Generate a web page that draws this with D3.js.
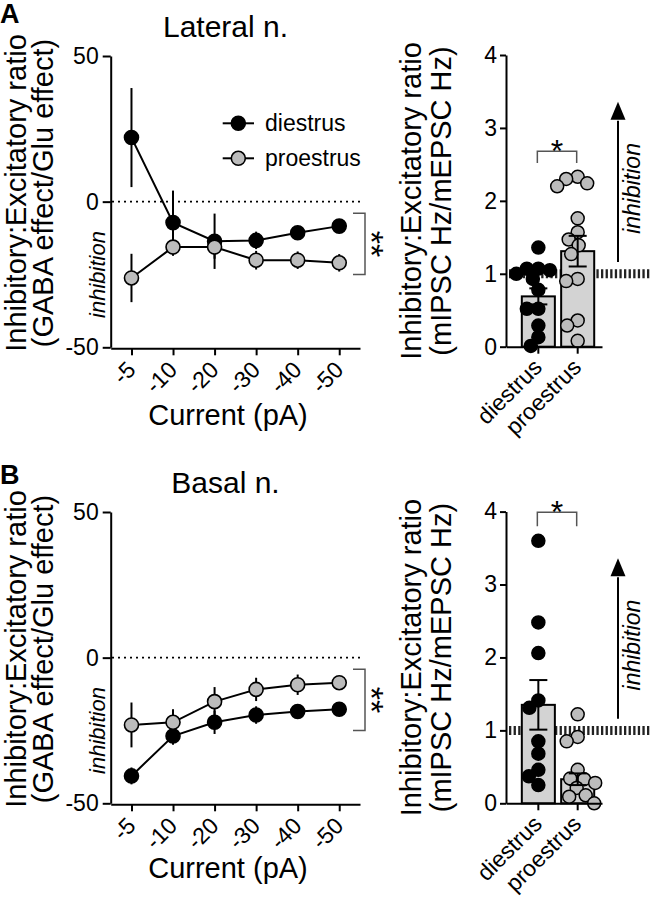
<!DOCTYPE html>
<html><head><meta charset="utf-8">
<script src="https://cdn.jsdelivr.net/npm/d3@7"></script>
<style>
body{margin:0;background:#fff}
text{font-family:"Liberation Sans",Arial,Helvetica,sans-serif;fill:#000}
</style>
</head><body>
<svg id="chart" width="651" height="899"></svg>
<script>
// ---------- data ----------
const currents = ["-5","-10","-20","-30","-40","-50"];
const lineTickValues = [50, 0, -50];
const lineTickLabels = ["50", "0", "-50"];
const barTickValues = [0, 1, 2, 3, 4];
const barTickLabels = ["0", "1", "2", "3", "4"];
const groups = ["diestrus", "proestrus"];

// Lateral n. (panel A, left)
const latDiestrusMean = [22, -7.2, -13.6, -13.3, -10.7, -8.4];
const latDiestrusSem  = [17, 11, 9.5, 3, 2, 1.5];
const latProestrusMean = [-26.2, -15.6, -15.6, -20.1, -20.1, -21];
const latProestrusSem  = [8.3, 3, 4, 3.2, 3, 3];

// Basal n. (panel B, left)
const basDiestrusMean = [-40.6, -26.9, -22.2, -19.7, -18.5, -17.7];
const basDiestrusSem  = [2.9, 3, 4, 3, 2, 1.5];
const basProestrusMean = [-23.1, -22.2, -15.1, -10.9, -9.3, -8.6];
const basProestrusSem  = [7.7, 4.5, 5, 4, 3.5, 1.5];

// Lateral n. (panel A, right) mIPSC/mEPSC ratio
const latBarMean = [0.69, 1.31];
const latBarSem  = [0.11, 0.21];
const latDiestrusPts  = [1.36, 1.07, 1.07, 1.05, 1.0, 0.93, 0.78, 0.52, 0.52, 0.29, 0.13, 0.01];
const latProestrusPts = [2.33, 2.30, 2.24, 2.20, 1.76, 1.57, 1.47, 1.39, 1.27, 0.93, 0.90, 0.36, 0.29, 0.08];

// Basal n. (panel B, right)
const basBarMean = [1.35, 0.33];
const basBarSem  = [0.34, 0.08];
const basDiestrusPts  = [3.60, 2.48, 2.06, 1.41, 1.31, 0.85, 0.68, 0.46, 0.37, 0.25];
const basProestrusPts = [1.22, 0.91, 0.85, 0.46, 0.34, 0.33, 0.28, 0.21, 0.11, 0.09, 0.0];

// ---------- style ----------
const GRAY = "#bcbcbc";
const BARFILL = "#d3d3d3";
const svg = d3.select("#chart");
svg.append("rect").attr("width", 651).attr("height", 899).attr("fill", "#fff");

function styleAxis(g) {
  g.selectAll(".domain").attr("stroke", "#000").attr("stroke-width", 2);
  g.selectAll(".tick line").attr("stroke", "#000").attr("stroke-width", 2);
  g.selectAll(".tick text").attr("font-size", 23).attr("fill", "#000")
    .style("font-family", '"Liberation Sans",Arial,sans-serif');
}

function yLabel(x1, x2, cy, l1, l2) {
  const t = svg.append("g").attr("font-size", 29);
  t.append("text").attr("transform", `translate(${x1},${cy}) rotate(-90)`)
    .attr("text-anchor", "middle").text(l1);
  t.append("text").attr("transform", `translate(${x2},${cy}) rotate(-90)`)
    .attr("text-anchor", "middle").text(l2);
}

// ---------- line chart ----------
function lineChart(off, title, dMean, dSem, pMean, pSem, legend) {
  const y = d3.scaleLinear().domain([-50, 50]).range([347.3 + off, 56 + off]);
  const x = d3.scalePoint().domain(currents).range([110.7, 360]).padding(0.5);

  svg.append("line").attr("x1", 112).attr("x2", 360)
    .attr("y1", y(0)).attr("y2", y(0))
    .attr("stroke", "#000").attr("stroke-width", 1.6).attr("stroke-dasharray", "2,4");

  const ya = svg.append("g").attr("transform", `translate(110.7,0)`)
    .call(d3.axisLeft(y).tickValues(lineTickValues)
      .tickFormat((d, i) => lineTickLabels[i]).tickSize(8).tickPadding(4).tickSizeOuter(0));
  styleAxis(ya);

  const xa = svg.append("g").attr("transform", `translate(0,${y(-50) + 1})`)
    .call(d3.axisBottom(x).tickSize(7).tickSizeOuter(0));
  styleAxis(xa);
  xa.selectAll(".tick text").attr("y", 0).attr("dy", 0)
    .attr("text-anchor", "end")
    .attr("transform", "translate(5,23) rotate(-45)");

  const series = [
    {mean: dMean, sem: dSem, fill: "#000"},
    {mean: pMean, sem: pSem, fill: GRAY}
  ];
  const line = d3.line().x((d, i) => x(currents[i])).y(d => y(d));
  series.forEach(s => {
    svg.append("path").datum(s.mean).attr("d", line)
      .attr("fill", "none").attr("stroke", "#000").attr("stroke-width", 2);
  });
  series.forEach(s => {
    svg.append("g").selectAll("line").data(s.mean).join("line")
      .attr("x1", (d, i) => x(currents[i])).attr("x2", (d, i) => x(currents[i]))
      .attr("y1", (d, i) => y(d - s.sem[i])).attr("y2", (d, i) => y(d + s.sem[i]))
      .attr("stroke", "#000").attr("stroke-width", 2);
  });
  series.forEach(s => {
    svg.append("g").selectAll("circle").data(s.mean).join("circle")
      .attr("cx", (d, i) => x(currents[i])).attr("cy", d => y(d))
      .attr("r", 7).attr("fill", s.fill).attr("stroke", "#000").attr("stroke-width", 1.6);
  });

  // significance bracket
  const bx = 365, b1 = y(-4), b2 = y(-25);
  svg.append("path").attr("d", `M${bx - 12},${b1}H${bx}V${b2}H${bx - 12}`)
    .attr("fill", "none").attr("stroke", "#555").attr("stroke-width", 1.5);
  svg.append("text").attr("transform", `translate(${bx - 5},${(b1 + b2) / 2}) rotate(90)`)
    .attr("text-anchor", "middle").attr("font-size", 34).text("**");

  // inhibition label
  svg.append("text").attr("transform", `translate(105,${y(-25)}) rotate(-90)`)
    .attr("text-anchor", "middle").attr("font-size", 22).attr("font-style", "italic")
    .text("inhibition");

  svg.append("text").attr("x", 225.5).attr("y", 37 + off)
    .attr("text-anchor", "middle").attr("font-size", 30).text(title);
  svg.append("text").attr("x", 228).attr("y", 425 + off * 0.993)
    .attr("text-anchor", "middle").attr("font-size", 29).text("Current (pA)");

  yLabel(26, 53, 193 + off, "Inhibitory:Excitatory ratio", "(GABA effect/Glu effect)");

  if (legend) {
    const items = [{name: "diestrus", fill: "#000", yy: 123.3}, {name: "proestrus", fill: GRAY, yy: 158.3}];
    items.forEach(it => {
      svg.append("line").attr("x1", 222.7).attr("x2", 254).attr("y1", it.yy).attr("y2", it.yy)
        .attr("stroke", "#000").attr("stroke-width", 2);
      svg.append("circle").attr("cx", 238.3).attr("cy", it.yy).attr("r", 7)
        .attr("fill", it.fill).attr("stroke", "#000").attr("stroke-width", 1.6);
      svg.append("text").attr("x", 265).attr("y", it.yy).attr("dy", "0.35em")
        .attr("font-size", 23).text(it.name);
    });
  }
}

// ---------- bar + scatter chart ----------
function swarm(vals, cx, y, r) {
  const placed = [];
  const minD = 2 * r * 0.88;
  vals.forEach(v => {
    const py = y(v);
    let best = 0;
    for (let k = 0; k < 200; k++) {
      const off = (k % 2 === 0 ? 1 : -1) * Math.ceil(k / 2) * 0.5;
      const ok = placed.every(p => Math.hypot(p.x - (cx + off), p.y - py) >= minD);
      if (ok) { best = off; break; }
    }
    placed.push({x: cx + best, y: py, v});
  });
  return placed;
}

function barChart(off, means, sems, dPts, pPts, sigVals) {
  const y = d3.scaleLinear().domain([0, 4]).range([346.7 + off, 55 + off]);
  const x = d3.scaleBand().domain(groups).range([506, 602])
    .paddingInner(0.16).paddingOuter(0.3).align(0.67);

  svg.append("line").attr("x1", 509).attr("x2", 651).attr("y1", y(1)).attr("y2", y(1))
    .attr("stroke", "#222").attr("stroke-width", 9).attr("stroke-dasharray", "2.3,2.3");

  svg.append("g").selectAll("rect").data(means).join("rect")
    .attr("x", (d, i) => x(groups[i])).attr("width", x.bandwidth())
    .attr("y", d => y(d)).attr("height", d => y(0) - y(d))
    .attr("fill", BARFILL).attr("stroke", "#000").attr("stroke-width", 2);

  const r = 6.5;
  [[dPts, "#000"], [pPts, GRAY]].forEach(([pts, fill], gi) => {
    const cx = x(groups[gi]) + x.bandwidth() / 2;
    svg.append("g").selectAll("circle").data(swarm(pts, cx, y, r)).join("circle")
      .attr("cx", d => d.x).attr("cy", d => d.y).attr("r", r)
      .attr("fill", fill).attr("stroke", "#000").attr("stroke-width", 1.5);
  });

  means.forEach((m, i) => {
    const cx = x(groups[i]) + x.bandwidth() / 2;
    const g = svg.append("g").attr("stroke", "#000").attr("stroke-width", 2);
    g.append("line").attr("x1", cx).attr("x2", cx).attr("y1", y(m - sems[i])).attr("y2", y(m + sems[i]));
    [m - sems[i], m + sems[i]].forEach(v =>
      g.append("line").attr("x1", cx - 9).attr("x2", cx + 9).attr("y1", y(v)).attr("y2", y(v)));
  });

  const ya = svg.append("g").attr("transform", "translate(506,0)")
    .call(d3.axisLeft(y).tickValues(barTickValues).tickFormat((d, i) => barTickLabels[i])
      .tickSize(6).tickPadding(3).tickSizeOuter(0));
  styleAxis(ya);
  const xa = svg.append("g").attr("transform", `translate(0,${y(0)})`)
    .call(d3.axisBottom(x).tickSize(7).tickSizeOuter(0));
  styleAxis(xa);
  xa.selectAll(".tick text").attr("y", 0).attr("dy", 0).attr("text-anchor", "end")
    .attr("transform", "translate(5,22) rotate(-45)");

  const c0 = x(groups[0]) + x.bandwidth() / 2 - 1, c1 = x(groups[1]) + x.bandwidth() / 2 - 1;
  svg.append("path").attr("d", `M${c0},${y(sigVals[1])}V${y(sigVals[0])}H${c1}V${y(sigVals[1])}`)
    .attr("fill", "none").attr("stroke", "#555").attr("stroke-width", 1.5);
  svg.append("text").attr("x", (c0 + c1) / 2).attr("y", y(sigVals[0]) + 11)
    .attr("text-anchor", "middle").attr("font-size", 32).text("*");

  const ax = 618;
  svg.append("line").attr("x1", ax).attr("x2", ax).attr("y1", y(1.16)).attr("y2", y(3.1))
    .attr("stroke", "#000").attr("stroke-width", 2);
  const tip = y(3.36);
  svg.append("path").attr("d", `M${ax},${tip}L${ax + 7.5},${tip + 18}L${ax - 7.5},${tip + 18}Z`).attr("fill", "#000");
  svg.append("text").attr("transform", `translate(640,${y(2.17)}) rotate(-90)`)
    .attr("text-anchor", "middle").attr("font-size", 23).attr("font-style", "italic")
    .text("inhibition");

  yLabel(421, 451, 201 + off, "Inhibitory:Excitatory ratio", "(mIPSC Hz/mEPSC Hz)");
}

lineChart(0, "Lateral n.", latDiestrusMean, latDiestrusSem, latProestrusMean, latProestrusSem, true);
lineChart(456, "Basal n.", basDiestrusMean, basDiestrusSem, basProestrusMean, basProestrusSem, false);
barChart(0, latBarMean, latBarSem, latDiestrusPts, latProestrusPts, [2.68, 2.52]);
barChart(456.6, basBarMean, basBarSem, basDiestrusPts, basProestrusPts, [3.99, 3.80]);

svg.append("text").attr("x", 0).attr("y", 23).attr("font-size", 27).attr("font-weight", "bold").text("A");
svg.append("text").attr("x", 0).attr("y", 484).attr("font-size", 27).attr("font-weight", "bold").text("B");
</script>
</body></html>
